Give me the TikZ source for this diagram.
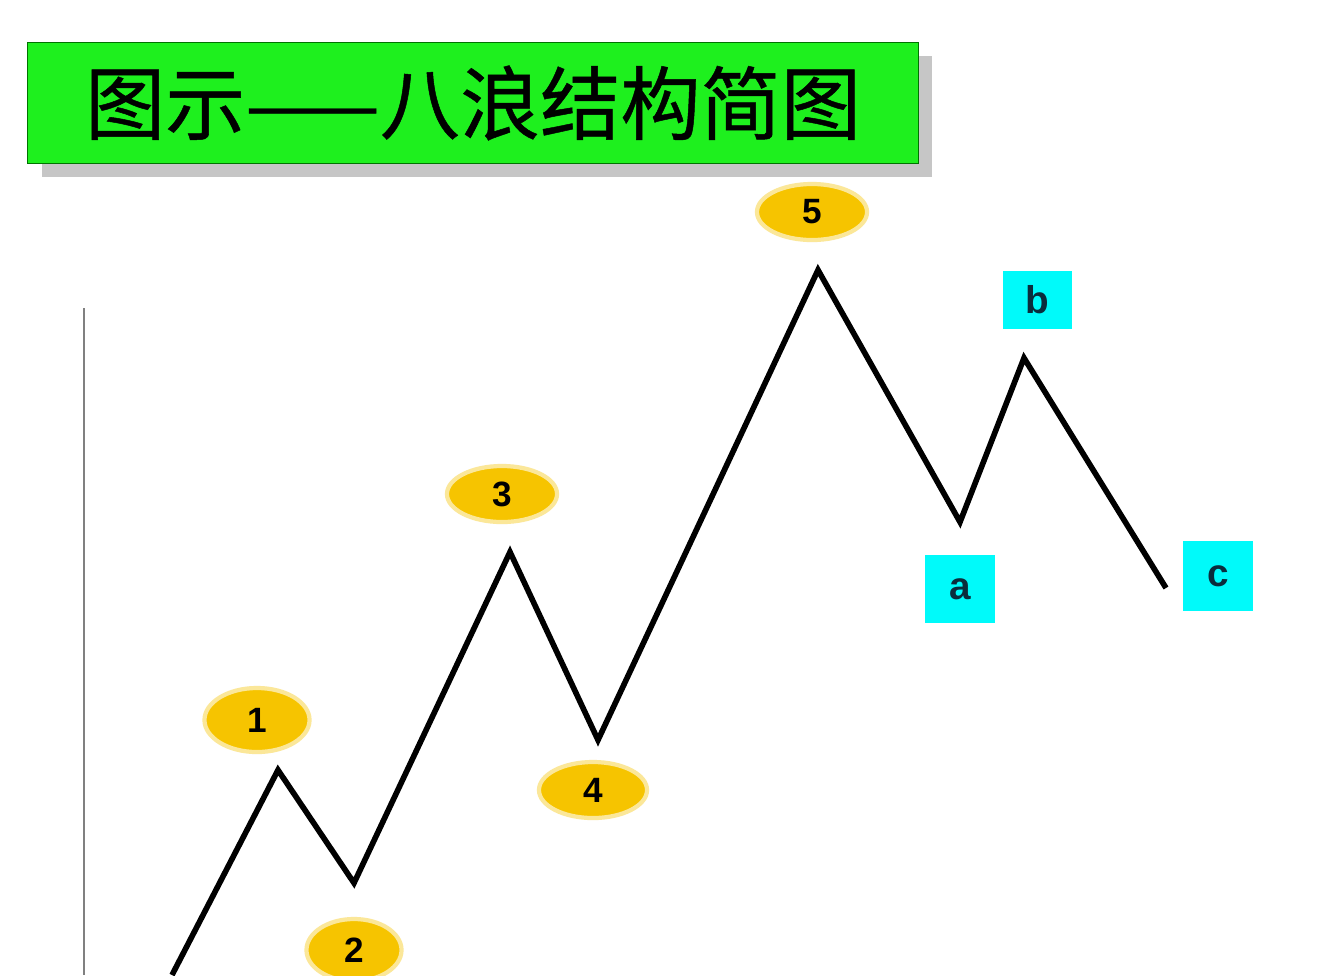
\documentclass[tikz,border=0pt]{standalone}
\usepackage{fontspec}
\setmainfont{Liberation Sans}
\newfontfamily\cjk[UprightFeatures={FakeBold=0.6}]{Noto Sans CJK SC}
\usetikzlibrary{shapes, positioning, calc}
\definecolor{titlegreen}{RGB}{30,240,30}
\definecolor{wavegold}{RGB}{246,196,0}
\definecolor{wavecyan}{RGB}{0,250,250}
\definecolor{letterblue}{RGB}{10,45,60}
\newcommand{\axiscolor}{gray}
\begin{document}
\begin{tikzpicture}[x=0.01cm, y=-0.01cm]
	\tikzstyle{wavec}=[ellipse, fill=wavegold, draw=wavegold!40, line width=1.2pt, font=\bfseries\fontsize{10}{12}\selectfont, inner sep=0pt]
	\tikzstyle{waveq}=[rectangle, fill=wavecyan, inner sep=0pt, text=letterblue, font=\bfseries\fontsize{11}{13}\selectfont]
	\useasboundingbox[fill=white] (0,0) rectangle (1319,975);
	% title
	\fill[gray!45] (42,56) rectangle (932,177);
	\node (title) at (473,103) [rectangle, fill=titlegreen, draw=green!45!black, minimum width=8.9cm, minimum height=1.21cm, font=\cjk\fontsize{22.8}{26}\selectfont] {图示——八浪结构简图};
	% axis
	\coordinate (ax0) at (84,308);
	\coordinate (ax1) at (84,975);
	\draw[\axiscolor, line width=0.8pt] (ax0) -- (ax1);
	% wave points
	\coordinate (p0) at (172,975);
	\coordinate (p1) at (278,770);
	\coordinate (p2) at (354,883);
	\coordinate (p3) at (510,552);
	\coordinate (p4) at (598,740);
	\coordinate (p5) at (818,270);
	\coordinate (pa) at (960,522);
	\coordinate (pb) at (1024,358);
	\coordinate (pc) at (1166,588);
	\draw[line width=1.6pt] (p0) -- (p1) -- (p2) -- (p3) -- (p4) -- (p5) -- (pa) -- (pb) -- (pc);
	% labels
	\node (w1) at (257,720) [wavec, minimum width=1.05cm, minimum height=0.64cm] {1};
	\node (w2) at (354,950) [wavec, minimum width=0.95cm, minimum height=0.62cm] {2};
	\node (w3) at (502,494) [wavec, minimum width=1.1cm, minimum height=0.56cm] {3};
	\node (w4) at (593,790) [wavec, minimum width=1.08cm, minimum height=0.56cm] {4};
	\node (w5) at (812,212) [wavec, minimum width=1.1cm, minimum height=0.56cm] {5};
	\node (wa) at (960,589) [waveq, minimum width=0.7cm, minimum height=0.68cm] {a};
	\node (wb) at (1037,300) [waveq, minimum width=0.69cm, minimum height=0.57cm] {b};
	\node (wc) at (1218,576) [waveq, minimum width=0.7cm, minimum height=0.7cm] {c};
\end{tikzpicture}
\end{document}
